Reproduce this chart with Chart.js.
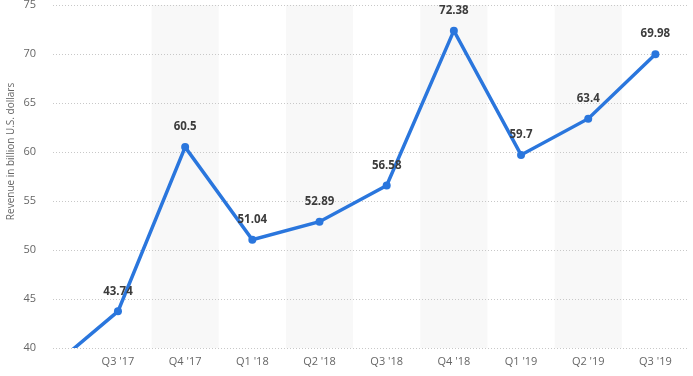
<!DOCTYPE html>
<html>
<head>
<meta charset="utf-8">
<script src="https://cdn.jsdelivr.net/npm/chart.js@4/dist/chart.umd.min.js"></script>
<style>
html,body{margin:0;padding:0;background:#fff;}
#wrap{width:693px;height:376px;position:relative;}
</style>
</head>
<body>
<div id="wrap"><canvas id="c" width="693" height="376"></canvas></div>
<script>
const categories = ["Q2 '17","Q3 '17","Q4 '17","Q1 '18","Q2 '18","Q3 '18","Q4 '18","Q1 '19","Q2 '19","Q3 '19"];
const revenue = [37.96, 43.74, 60.5, 51.04, 52.89, 56.58, 72.38, 59.7, 63.4, 69.98];
const yTicks = [40, 45, 50, 55, 60, 65, 70, 75];
const shadedCols = [2, 4, 6, 8];
const yTitle = 'Revenue in billion U.S. dollars';

const FONT = "'Open Sans', 'Noto Sans', sans-serif";

const bandsPlugin = {
  id: 'bands',
  beforeDraw(chart) {
    const {ctx, chartArea: a, scales: {x}} = chart;
    ctx.save();
    ctx.beginPath();
    ctx.rect(a.left, a.top, a.right - a.left, a.bottom - a.top);
    ctx.clip();
    ctx.fillStyle = '#f8f8f8';
    shadedCols.forEach(i => {
      const l = x.getPixelForValue(i - 0.5), r = x.getPixelForValue(i + 0.5);
      ctx.fillRect(l, a.top, r - l, a.bottom - a.top);
    });
    ctx.restore();
  },
  afterDraw(chart) {
    const {ctx, chartArea: a} = chart;
    ctx.save();
    ctx.font = "10px " + FONT;
    ctx.fillStyle = '#666';
    ctx.textAlign = 'center';
    ctx.textBaseline = 'middle';
    ctx.translate(11, (a.top + a.bottom) / 2 - 25);
    ctx.rotate(-Math.PI / 2);
    ctx.fillText(yTitle, 0, 0);
    ctx.restore();
  }
};

const labelPlugin = {
  id: 'vlabels',
  afterDatasetsDraw(chart) {
    const {ctx, chartArea: a} = chart;
    const meta = chart.getDatasetMeta(0);
    ctx.save();
    ctx.font = "bold 11.5px " + FONT;
    ctx.fillStyle = '#3c3c3c';
    ctx.textAlign = 'center';
    ctx.textBaseline = 'middle';
    meta.data.forEach((pt, i) => {
      if (pt.x < a.left || pt.y > a.bottom) return;
      ctx.fillText(String(revenue[i]), pt.x, pt.y - 20);
    });
    ctx.restore();
  }
};

new Chart(document.getElementById('c'), {
  type: 'line',
  data: {
    datasets: [{
      data: revenue.map((v, i) => ({x: i, y: v})),
      borderColor: '#2a76dd',
      backgroundColor: '#2a76dd',
      borderWidth: 3.5,
      pointRadius: 4,
      pointBorderWidth: 0,
      tension: 0,
      clip: 0
    }]
  },
  options: {
    responsive: false,
    animation: false,
    events: [],
    layout: {padding: {top: 5, right: 3, left: 0, bottom: 0}},
    plugins: {legend: {display: false}, tooltip: {enabled: false}},
    scales: {
      x: {
        type: 'linear',
        min: 0.033,
        max: 9.5,
        afterBuildTicks(scale) {
          scale.ticks = categories.map((c, i) => ({value: i})).filter(t => t.value >= 1);
        },
        afterFit(scale) { scale.height = 28; scale.paddingLeft = 0; scale.paddingRight = 0; },
        grid: {display: false, drawTicks: false},
        border: {display: false},
        ticks: {
          autoSkip: false,
          maxRotation: 0,
          padding: 7,
          color: '#666',
          font: {family: FONT, size: 11},
          callback: (v) => categories[v] || ''
        }
      },
      y: {
        min: 40,
        max: 75,
        afterBuildTicks(scale) { scale.ticks = yTicks.map(v => ({value: v})); },
        afterFit(scale) { scale.width = 53; scale.paddingTop = 0; scale.paddingBottom = 0; },
        grid: {color: '#c8c8c8', borderDash: [1, 2], drawTicks: false},
        border: {display: false, dash: [1, 2]},
        ticks: {padding: 17, color: '#666', font: {family: FONT, size: 11}},
        title: {display: false}
      }
    }
  },
  plugins: [bandsPlugin, labelPlugin]
});
</script>
</body>
</html>
